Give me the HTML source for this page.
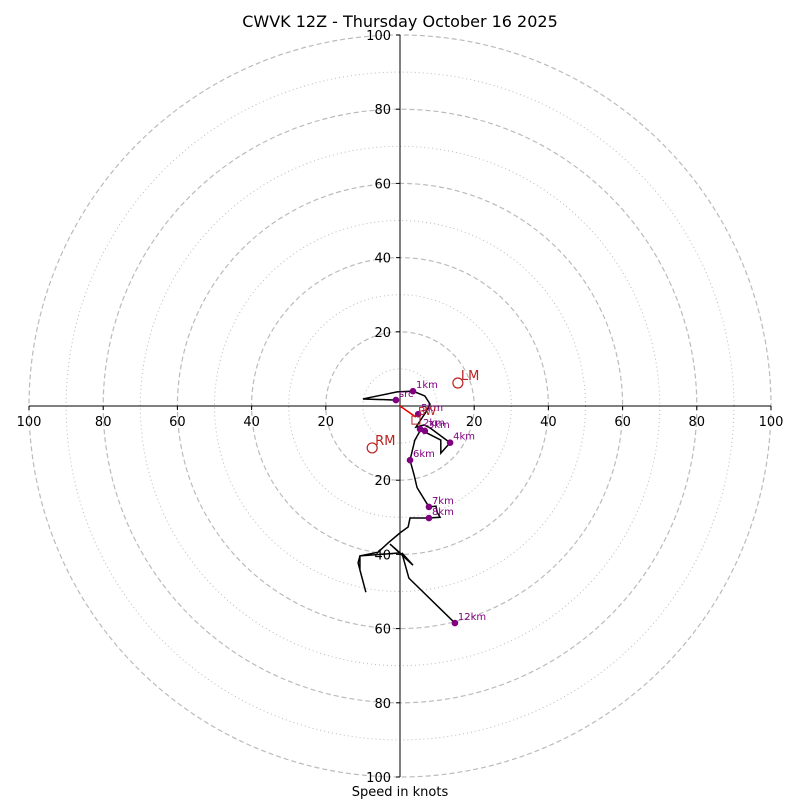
<!DOCTYPE html>
<html><head><meta charset="utf-8"><style>
body{margin:0;background:#fff;}
svg{display:block;font-family:"DejaVu Sans","Liberation Sans",sans-serif;}
</style></head><body>
<svg id="c" width="800" height="800" viewBox="0 0 800 800" xmlns="http://www.w3.org/2000/svg">
<text x="400" y="27" font-size="16" text-anchor="middle">CWVK 12Z - Thursday October 16 2025</text>
<text x="400" y="796" font-size="13" text-anchor="middle">Speed in knots</text>
<g id="rings"></g><g id="axes"></g><g id="trace"></g><g id="marks"></g>
</svg>
<script>
const ringSpeeds=[10,20,30,40,50,60,70,80,90,100];
const tickLabels=[20,40,60,80,100];
// hodograph trace (u, v in knots)
const traceU=[-1.1,-10,-0.8,3.5,6.7,8.1,7,4.3,6.5,8.1,13.5,11,11,6.7,5.7,4,2.7,3.8,4.6,7.8,9.7,10,10.8,7.5,2.7,2.2,0,-3.2,-5.9,-10.8,-11.3,-9.2,-10.8,-10.8,0,-2.7,3.5,0.5,2.4,14.8];
const traceV=[1.6,1.9,3.8,4,2.7,0.5,-1.6,-5.7,-5.1,-5.9,-9.9,-12.7,-9.2,-7,-6.2,-9.2,-14.6,-18.6,-22,-27.2,-27,-28.6,-30,-30.2,-30.2,-32.6,-34.2,-36.9,-39.4,-40.4,-42.3,-50.2,-44.2,-40.4,-39.6,-37.2,-42.9,-39.6,-46.4,-58.5];
const markerLabels=["src","1km","2km","3km","4km","5km","6km","7km","8km","12km"];
const markerU=[-1.1,3.5,5.4,6.7,13.5,4.9,2.7,7.8,7.8,14.8];
const markerV=[1.6,4,-6.2,-6.7,-9.9,-2.2,-14.6,-27.2,-30.2,-58.5];
const motionLabels=["LM","RM"];
const motionU=[15.6,-7.5];
const motionV=[6.2,-11.3];
const meanWindU=[4.3];
const meanWindV=[-3];
const CX=400,CY=406,R=3.71;
const sx=u=>CX+u*R, sy=v=>CY-v*R;
const NS="http://www.w3.org/2000/svg";
function mk(tag,attrs,parent,text){const e=document.createElementNS(NS,tag);for(const k in attrs)e.setAttribute(k,attrs[k]);if(text!==undefined)e.textContent=text;document.getElementById(parent).appendChild(e);return e;}
ringSpeeds.forEach(s=>{
 const e=mk('circle',{cx:CX,cy:CY,r:s*R,fill:'none',stroke:'#bbb','stroke-width':s%20==0?1.2:1,'stroke-dasharray':s%20==0?'5,3':'1,3'},'rings');
 
 
});
let a=mk('line',{x1:sx(-100),y1:CY,x2:sx(100),y2:CY,stroke:'#000'},'axes');


a=mk('line',{x1:CX,y1:sy(100),x2:CX,y2:sy(-100),stroke:'#000'},'axes');


tickLabels.forEach(t=>{
 [t,-t].forEach(v=>{
  mk('line',{x1:sx(v),y1:CY,x2:sx(v),y2:CY+4,stroke:'#000'},'axes');
  let e=mk('text',{x:sx(v),y:CY+20,'font-size':13,'text-anchor':'middle'},'axes',t);
  
  
  mk('line',{x1:CX-4,y1:sy(v),x2:CX,y2:sy(v),stroke:'#000'},'axes');
  e=mk('text',{x:CX-9,y:sy(v)+5,'font-size':13,'text-anchor':'end'},'axes',t);
  
  
 });
});
let pts=traceU.map((u,i)=>sx(u)+','+sy(traceV[i])).join(' ');
let p=mk('polyline',{points:pts,fill:'none',stroke:'#000','stroke-width':1.5},'trace');


markerLabels.forEach((l,i)=>{
 let c=mk('circle',{cx:sx(markerU[i]),cy:sy(markerV[i]),r:3.3,fill:'#800080'},'marks');
 
 
 let t=mk('text',{x:sx(markerU[i])+3,y:sy(markerV[i])-3,'font-size':10,fill:'#800080'},'marks',l);
 
 
});
let ar=mk('line',{x1:CX,y1:CY,x2:sx(meanWindU[0]),y2:sy(meanWindV[0]),stroke:'#e00','stroke-width':1.5},'marks');


let bx=mk('rect',{x:sx(meanWindU[0])-4,y:sy(meanWindV[0])-1,width:8,height:8,fill:'none',stroke:'#b22'},'marks');


let bw=mk('text',{x:sx(meanWindU[0])+2,y:sy(meanWindV[0])-2,'font-size':11,fill:'#b22'},'marks','BW');


motionLabels.forEach((l,i)=>{
 let c=mk('circle',{cx:sx(motionU[i]),cy:sy(motionV[i]),r:5,fill:'none',stroke:'#b22','stroke-width':1.2},'marks');
 
 
 let t=mk('text',{x:sx(motionU[i])+3,y:sy(motionV[i])-3,'font-size':13,fill:'#b22'},'marks',l);
 
 
});
</script>
</body></html>
